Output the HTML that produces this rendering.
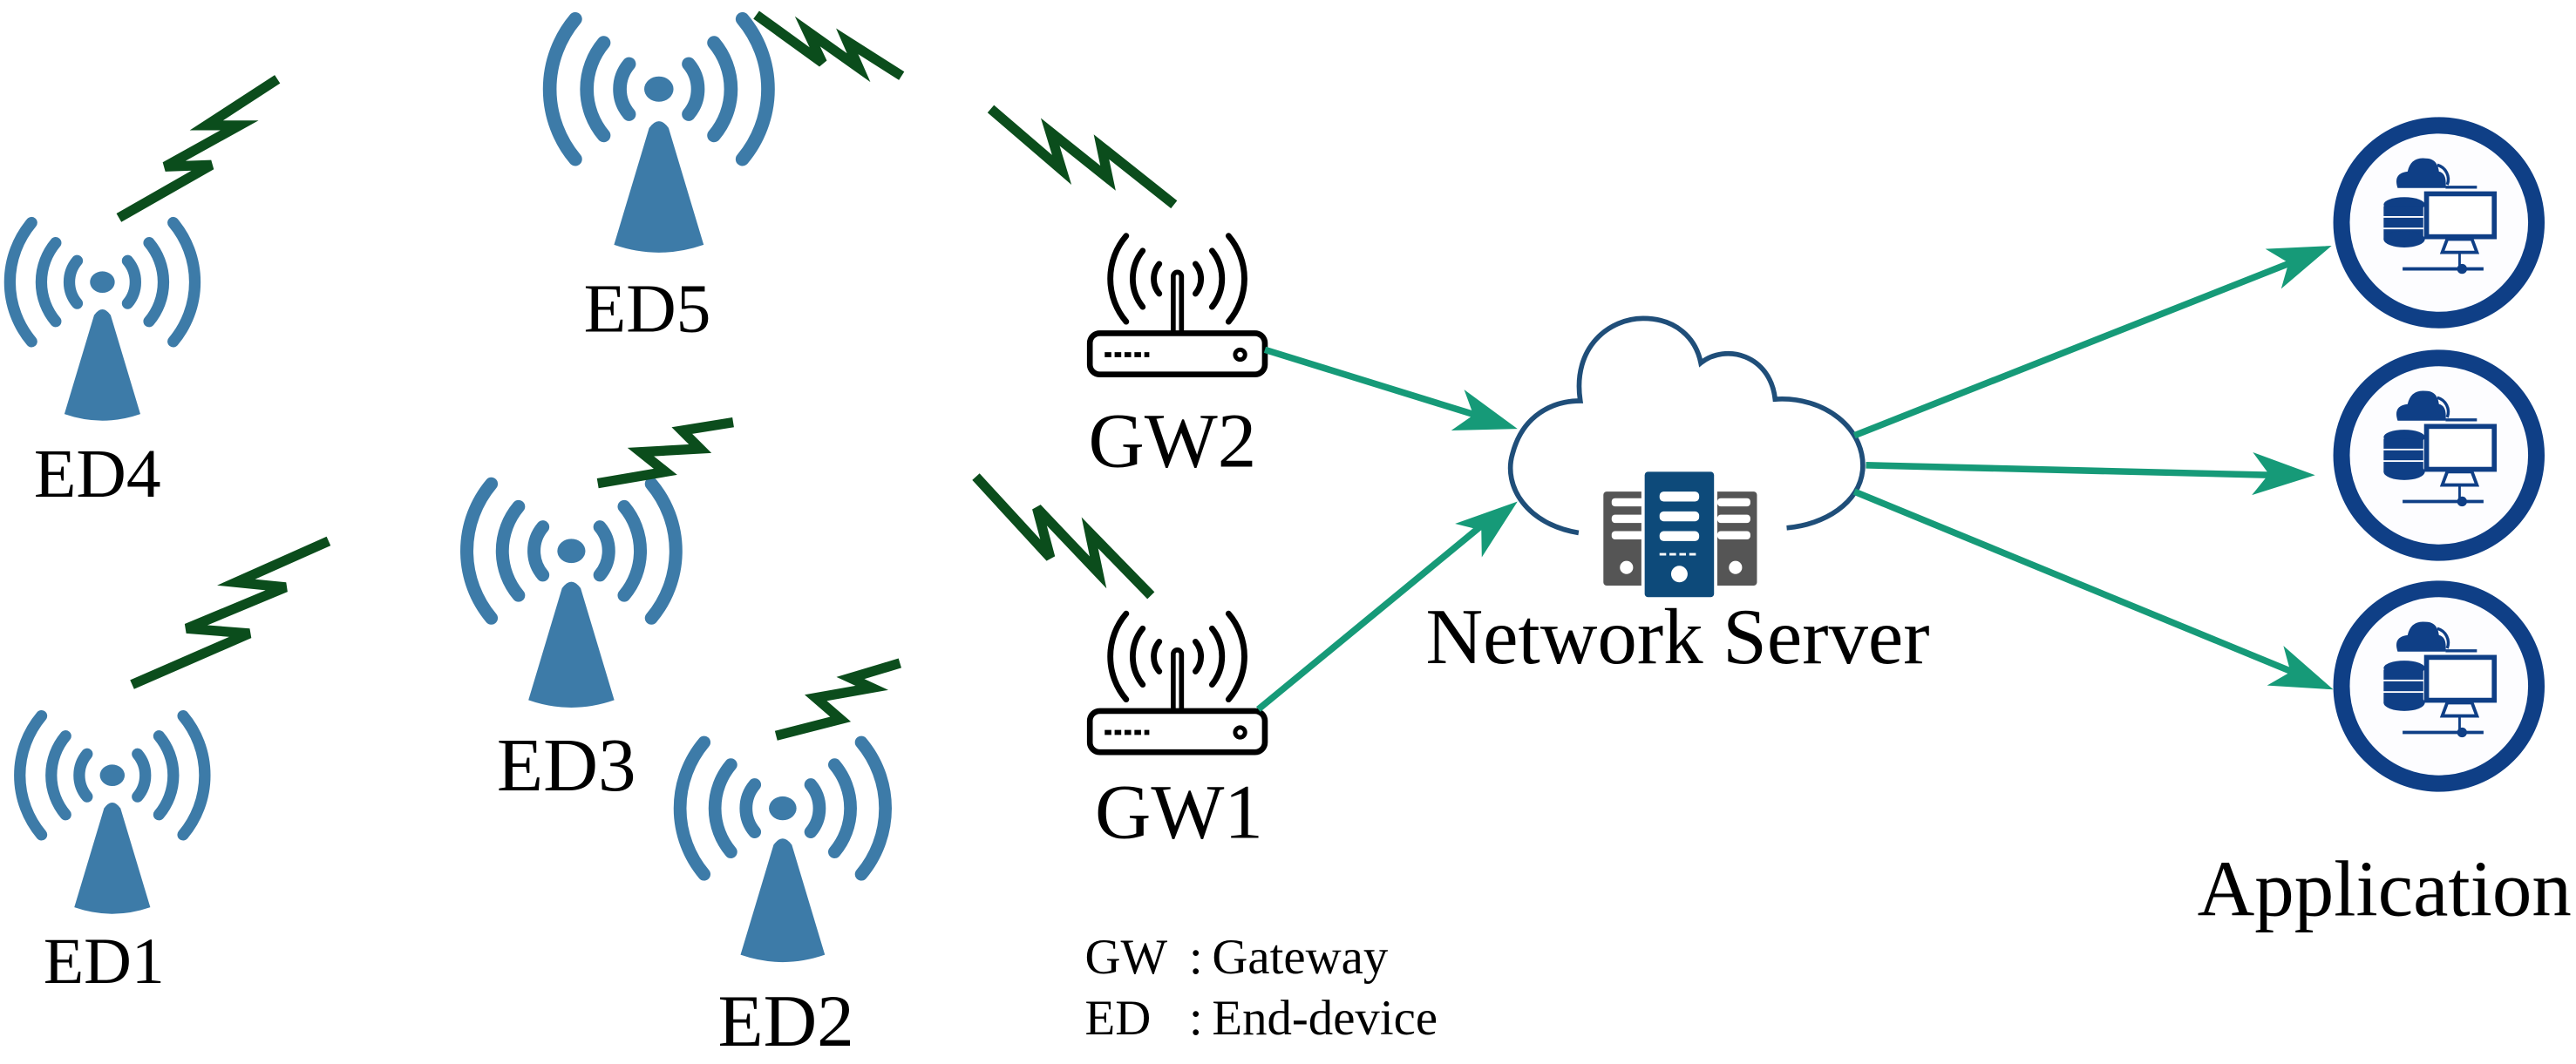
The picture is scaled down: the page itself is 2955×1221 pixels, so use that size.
<!DOCTYPE html>
<html><head><meta charset="utf-8"><style>
html,body{margin:0;padding:0;background:#fff;}
svg{display:block}
text{font-family:"Liberation Serif",serif;fill:#000}
</style></head><body>
<svg width="2955" height="1221" viewBox="0 0 1560 645" preserveAspectRatio="none" xmlns="http://www.w3.org/2000/svg">
<defs>
<g id="ed">
 <g fill="none" stroke="#3d7ba8" stroke-width="7" stroke-linecap="round">
  <path d="M42.9,-36 A56,56 0 0 1 42.9,36"/><path d="M-42.9,-36 A56,56 0 0 0 -42.9,36"/>
  <path d="M28.3,-23.8 A37,37 0 0 1 28.3,23.8"/><path d="M-28.3,-23.8 A37,37 0 0 0 -28.3,23.8"/>
  <path d="M15.3,-12.9 A20,20 0 0 1 15.3,12.9"/><path d="M-15.3,-12.9 A20,20 0 0 0 -15.3,12.9"/>
 </g>
 <ellipse cx="0" cy="0" rx="7.5" ry="6.5" fill="#3d7ba8"/>
 <path d="M-5,20 Q0,13 5,20 L23,80 Q0,88 -23,80 Z" fill="#3d7ba8"/>
</g>
<g id="gw">
 <g fill="none" stroke="#000" stroke-width="3.6" stroke-linecap="round">
  <path d="M31,-26 A40,40 0 0 1 31,26"/><path d="M-31,-26 A40,40 0 0 0 -31,26"/>
  <path d="M21,-17 A27,27 0 0 1 21,17"/><path d="M-21,-17 A27,27 0 0 0 -21,17"/>
  <path d="M11,-9 A14,14 0 0 1 11,9"/><path d="M-11,-9 A14,14 0 0 0 -11,9"/>
 </g>
 <rect x="-2.5" y="-4" width="5" height="38" rx="2.5" fill="#fff" stroke="#000" stroke-width="3"/>
 <rect x="-46" y="40" width="92" height="8" rx="3" fill="#fff" stroke="#000" stroke-width="3.2"/>
 <rect x="-53" y="33" width="106" height="25" rx="6" fill="#fff" stroke="#000" stroke-width="3.5"/>
 <line x1="-44" y1="46" x2="-17" y2="46" stroke="#000" stroke-width="3" stroke-dasharray="4,2"/>
 <circle cx="38" cy="46" r="3" fill="none" stroke="#000" stroke-width="2.6"/>
</g>
<g id="app">
 <circle cx="0" cy="0" r="59" fill="#fdfdff" stroke="#0f3f86" stroke-width="10"/>
 <g fill="#0f3f86">
  <path d="M-25,-21 Q-28,-30 -19,-31 Q-17,-40 -8,-39 Q-1,-39 0,-31 Q5,-30 4,-21 Z"/>
  <path d="M-1,-35 A9,9 0 0 1 5,-23" fill="none" stroke="#0f3f86" stroke-width="1.8"/>
  <line x1="4" y1="-21.5" x2="23" y2="-21.5" stroke="#0f3f86" stroke-width="1.8"/>
  <ellipse cx="-21" cy="-11" rx="12.5" ry="4.5"/>
  <rect x="-33.5" y="-10" width="24" height="6"/>
  <rect x="-33.5" y="-3" width="24" height="6"/>
  <rect x="-33.5" y="4" width="24" height="6"/>
  <ellipse cx="-21" cy="10" rx="12.5" ry="5"/>
 </g>
 <rect x="-7.5" y="-17.5" width="41" height="26" fill="#fff" stroke="#0f3f86" stroke-width="3"/>
 <path d="M5,10 L20,10 L23,18 L2,18 Z" fill="none" stroke="#0f3f86" stroke-width="2"/>
 <line x1="12.5" y1="18" x2="12.5" y2="28" stroke="#0f3f86" stroke-width="1.5"/>
 <line x1="-22" y1="28" x2="27" y2="28" stroke="#0f3f86" stroke-width="2"/>
 <circle cx="14" cy="28" r="3" fill="#0f3f86"/>
</g>
<g id="ah"><path d="M0,0 L-38,-13 L-28,0 L-38,13 Z" fill="#169a78"/></g>
</defs>

<use href="#ed" transform="translate(62,171)"/>
<use href="#ed" transform="translate(68,470)"/>
<use href="#ed" transform="translate(399,54) scale(1.18)"/>
<use href="#ed" transform="translate(346,334) scale(1.13)"/>
<use href="#ed" transform="translate(474,490) scale(1.11)"/>

<text x="59" y="301" font-size="42" text-anchor="middle">ED4</text>
<text x="63" y="596" font-size="40" text-anchor="middle">ED1</text>
<text x="392" y="201" font-size="42" text-anchor="middle">ED5</text>
<text x="343" y="479" font-size="46" text-anchor="middle">ED3</text>
<text x="476" y="634" font-size="45" text-anchor="middle">ED2</text>

<g fill="none" stroke="#0b4d1c" stroke-width="6" stroke-linejoin="miter">
 <polyline points="72,132 128,100 100,101 145,76 125,76 168,48"/>
 <polyline points="80,415 151,384 113,381 173,356 143,353 199,328"/>
 <polyline points="458,9 498,38 489,19 520,41 513,25 546,46"/>
 <polyline points="362,293 403,286 388,274 424,272 413,261 444,256"/>
 <polyline points="470,446 509,436 494,423 528,417 515,411 545,402"/>
 <polyline points="600,66 643,103 636,80 671,108 667,89 711,124"/>
 <polyline points="591,289 636,338 628,308 665,347 660,323 697,361"/>
</g>

<use href="#gw" transform="translate(713,169)"/>
<use href="#gw" transform="translate(713,398)"/>
<text x="710" y="283" font-size="47" text-anchor="middle">GW2</text>
<text x="714" y="508" font-size="47" text-anchor="middle">GW1</text>

<line x1="766" y1="212" x2="895" y2="252" stroke="#169a78" stroke-width="4"/>
<use href="#ah" transform="translate(919,260) rotate(17.5)"/>
<line x1="762" y1="430" x2="898" y2="318" stroke="#169a78" stroke-width="4"/>
<use href="#ah" transform="translate(919,304) rotate(-38.5)"/>

<path d="M956,323 C925,318 910,295 916,275 C922,252 940,243 957,243 C952,210 975,193 995,193 C1015,193 1027,205 1030,220 C1045,208 1072,215 1075,242 C1105,240 1130,260 1128,285 C1126,305 1105,318 1082,320" fill="none" stroke="#1f4e79" stroke-width="3"/>

<rect x="971" y="298" width="32" height="57" rx="2" fill="#555"/>
<rect x="1032" y="298" width="32" height="57" rx="2" fill="#555"/>
<g fill="#fff">
 <rect x="976" y="302" width="20" height="5" rx="2"/><rect x="976" y="312" width="20" height="5" rx="2"/><rect x="976" y="322" width="20" height="5" rx="2"/>
 <circle cx="985" cy="344" r="4"/>
 <rect x="1040" y="302" width="20" height="5" rx="2"/><rect x="1040" y="312" width="20" height="5" rx="2"/><rect x="1040" y="322" width="20" height="5" rx="2"/>
 <circle cx="1051" cy="344" r="4"/>
</g>
<rect x="995" y="285" width="44" height="78" rx="3" fill="#0d4a7a" stroke="#fff" stroke-width="2"/>
<g fill="#fff">
 <rect x="1005" y="298" width="24" height="6" rx="2.5"/><rect x="1005" y="310" width="24" height="6" rx="2.5"/><rect x="1005" y="322" width="24" height="6" rx="2.5"/>
 <circle cx="1017" cy="348" r="5"/>
</g>
<line x1="1005" y1="336" x2="1029" y2="336" stroke="#fff" stroke-width="1.5" stroke-dasharray="4,2"/>
<text x="1016" y="402" font-size="48" text-anchor="middle">Network Server</text>

<line x1="1123" y1="264" x2="1388" y2="159" stroke="#169a78" stroke-width="4"/>
<use href="#ah" transform="translate(1412,149) rotate(-21.6)"/>
<line x1="1130" y1="282" x2="1375" y2="288" stroke="#169a78" stroke-width="4"/>
<use href="#ah" transform="translate(1402,288) rotate(1.3)"/>
<line x1="1123" y1="298" x2="1390" y2="408" stroke="#169a78" stroke-width="4"/>
<use href="#ah" transform="translate(1413,418) rotate(22.4)"/>

<use href="#app" transform="translate(1477,135)"/>
<use href="#app" transform="translate(1477,276)"/>
<use href="#app" transform="translate(1477,416)"/>
<text x="1444" y="555" font-size="48" text-anchor="middle">Application</text>

<text x="657" y="590" font-size="30">GW</text>
<text x="720" y="590" font-size="30">:</text>
<text x="734" y="590" font-size="30">Gateway</text>
<text x="657" y="627" font-size="30">ED</text>
<text x="720" y="627" font-size="30">:</text>
<text x="734" y="627" font-size="30">End-device</text>
</svg>
</body></html>
